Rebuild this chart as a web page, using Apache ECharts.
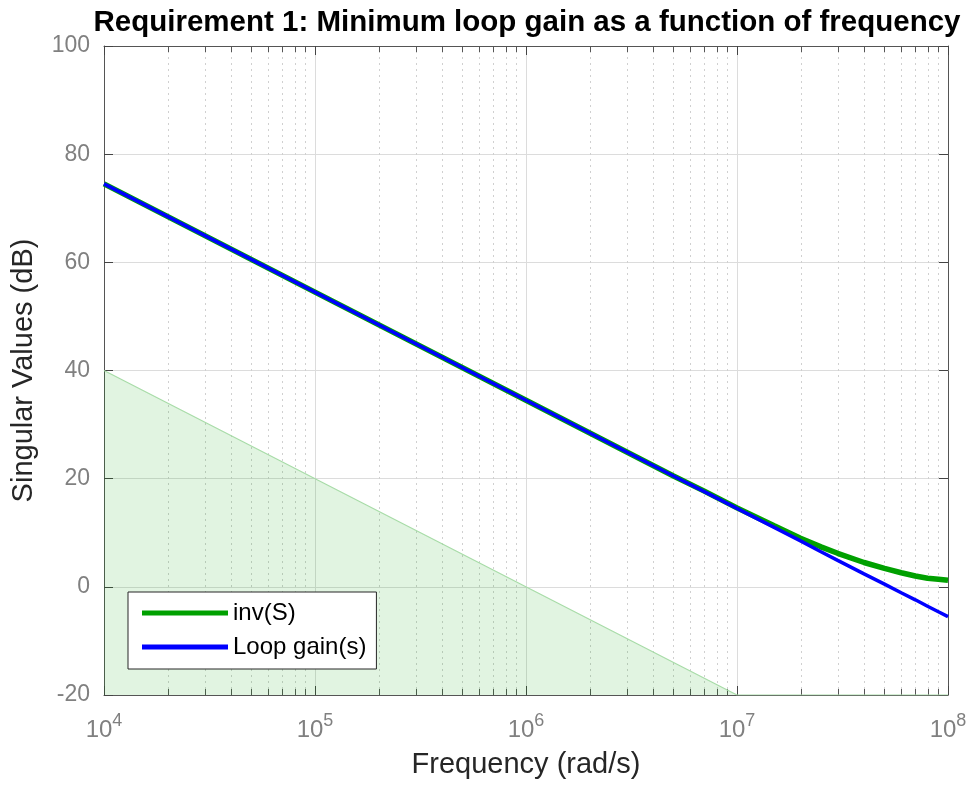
<!DOCTYPE html>
<html><head><meta charset="utf-8">
<script src="https://cdn.jsdelivr.net/npm/echarts@6/dist/echarts.min.js"></script>
<style>html,body{margin:0;padding:0;background:#fff}#c{width:973px;height:786px}</style>
</head><body><div id="c"></div>
<script>
// frequency points (rad/s)
const freq = [1e4, 1e5, 1e6, 5e6, 7e6, 1e7, 1.5e7, 2e7, 2.5e7, 3e7, 4e7, 5e7, 6e7, 7e7, 8e7, 9e7, 1e8];
// Loop gain(s) in dB
const loopGainDb = [74.5, 54.5, 34.5, 20.5, 17.6, 14.5, 11.0, 8.5, 6.5, 4.9, 2.4, 0.5, -1.1, -2.4, -3.6, -4.6, -5.5];
// inv(S) in dB
const invSDb = [74.5, 54.5, 34.5, 20.5, 17.7, 14.6, 11.3, 9.0, 7.4, 6.2, 4.5, 3.4, 2.6, 2.0, 1.6, 1.4, 1.2];
// requirement bound (shaded)
const boundFreq = [1e4, 1e7, 1e8];
const boundDb = [40, -20, -20];
// minor x ticks
const xMinorTicks = [2e4,3e4,4e4,5e4,6e4,7e4,8e4,9e4,
                     2e5,3e5,4e5,5e5,6e5,7e5,8e5,9e5,
                     2e6,3e6,4e6,5e6,6e6,7e6,8e6,9e6,
                     2e7,3e7,4e7,5e7,6e7,7e7,8e7,9e7];
const titleText = 'Requirement 1: Minimum loop gain as a function of frequency';
const xName = 'Frequency (rad/s)';
const yName = 'Singular Values (dB)';
const seriesNames = ['inv(S)', 'Loop gain(s)'];

const FONT = 'Liberation Sans, Arial, Helvetica, sans-serif';
const tickColor = '#808080';
const boxColor = '#555555';

const chart = echarts.init(document.getElementById('c'), null, {renderer: 'canvas'});
const pairs = (xs, ys) => xs.map((x, i) => [x, ys[i]]);

const option = {
  animation: false,
  backgroundColor: '#ffffff',
  title: {
    text: titleText, left: 522, top: 3, textAlign: 'center',
    textStyle: {fontFamily: FONT, fontSize: 29.5, fontWeight: 'bold', color: '#000'}
  },
  grid: {left: 104, right: 25, top: 46, bottom: 91, containLabel: false},
  legend: {
    orient: 'vertical', left: 128, top: 592,
    padding: [9, 10, 10, 14], itemGap: 10,
    itemWidth: 86, itemHeight: 5, icon: 'rect',
    backgroundColor: '#ffffff', borderColor: '#262626', borderWidth: 1, borderRadius: 0,
    textStyle: {fontFamily: FONT, fontSize: 24, color: '#000', lineHeight: 24},
    data: seriesNames
  },
  xAxis: [{
    type: 'log', logBase: 10, min: 1e4, max: 1e8, splitNumber: 4, position: 'bottom',
    name: xName, nameLocation: 'middle', nameGap: 55,
    nameTextStyle: {fontFamily: FONT, fontSize: 29, color: '#262626'},
    axisLine: {show: true, onZero: false, lineStyle: {color: boxColor, width: 1}},
    axisTick: {show: true, inside: true, length: 9, lineStyle: {color: '#444'}},
    axisLabel: {
      margin: 17,
      formatter: v => '{b|10}{s|' + Math.round(Math.log10(v)) + '}',
      rich: {
        b: {fontFamily: FONT, fontSize: 24, color: tickColor, verticalAlign: 'bottom', lineHeight: 30},
        s: {fontFamily: FONT, fontSize: 18, color: tickColor, verticalAlign: 'top', lineHeight: 18}
      }
    },
    splitLine: {show: true, lineStyle: {color: '#dcdcdc', width: 1}}
  }, {
    type: 'log', logBase: 10, min: 1e4, max: 1e8, splitNumber: 4, position: 'top',
    axisLine: {show: true, onZero: false, lineStyle: {color: boxColor, width: 1}},
    axisTick: {show: true, inside: true, length: 9, lineStyle: {color: '#444'}},
    axisLabel: {show: false}, splitLine: {show: false}
  }],
  yAxis: [{
    type: 'value', min: -20, max: 100, interval: 20, position: 'left',
    name: yName, nameLocation: 'middle', nameGap: 66, nameRotate: 90,
    nameTextStyle: {fontFamily: FONT, fontSize: 29, color: '#262626'},
    axisLine: {show: true, onZero: false, lineStyle: {color: boxColor, width: 1}},
    axisTick: {show: true, inside: true, length: 9, lineStyle: {color: '#444'}},
    axisLabel: {margin: 14, fontFamily: FONT, fontSize: 23, color: tickColor},
    splitLine: {show: true, lineStyle: {color: '#dcdcdc', width: 1}}
  }, {
    type: 'value', min: -20, max: 100, interval: 20, position: 'right',
    axisLine: {show: true, onZero: false, lineStyle: {color: boxColor, width: 1}},
    axisTick: {show: true, inside: true, length: 9, lineStyle: {color: '#444'}},
    axisLabel: {show: false}, splitLine: {show: false}
  }],
  series: [{
    type: 'custom', name: 'minorGrid', silent: true, z: 1,
    xAxisIndex: 0, yAxisIndex: 0,
    data: xMinorTicks.map(v => [v, -20]),
    renderItem: (params, api) => {
      const v = api.value(0);
      const b = api.coord([v, -20]);
      const t = api.coord([v, 100]);
      const x = Math.round(b[0]) + 0.5;
      return {type: 'group', children: [
        {type: 'line', shape: {x1: x, y1: b[1], x2: x, y2: t[1]},
         style: {stroke: '#d0d0d0', lineWidth: 1, lineDash: [2, 4]}},
        {type: 'line', shape: {x1: x, y1: b[1], x2: x, y2: b[1] - 6},
         style: {stroke: '#555', lineWidth: 1}},
        {type: 'line', shape: {x1: x, y1: t[1], x2: x, y2: t[1] + 6},
         style: {stroke: '#555', lineWidth: 1}}
      ]};
    }
  }, {
    type: 'line', name: 'bound', silent: true, z: 2,
    data: pairs(boundFreq, boundDb), symbol: 'none',
    lineStyle: {color: '#a8dca8', width: 1.2},
    areaStyle: {color: 'rgba(0,160,0,0.17)', origin: 'start'}
  }, {
    type: 'line', name: seriesNames[0], z: 3,
    data: pairs(freq, invSDb), symbol: 'none', showSymbol: false,
    itemStyle: {color: '#00a000'},
    lineStyle: {color: '#00a000', width: 5.5}
  }, {
    type: 'line', name: seriesNames[1], z: 4,
    data: pairs(freq, loopGainDb), symbol: 'none', showSymbol: false,
    itemStyle: {color: '#0000ff'},
    lineStyle: {color: '#0000ff', width: 3.5}
  }]
};
chart.setOption(option);
</script>
</body></html>
